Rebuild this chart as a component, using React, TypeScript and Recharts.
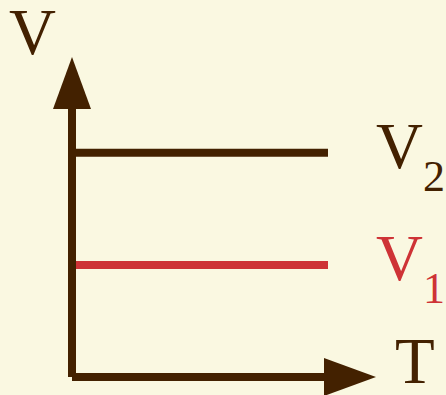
import React from 'react';
import { LineChart, Line, XAxis, YAxis, Label, LabelList } from 'recharts';

// T values along the horizontal axis
const temperatures = [0, 5, 10];
// constant volumes for the two isochores
const volume1 = [4.12, 4.12, 4.12];
const volume2 = [8.24, 8.24, 8.24];
const seriesLabels = { v1: ['V', '1'], v2: ['V', '2'] };
const axisLabels = { x: 'T', y: 'V' };

const BG = '#FAF8E1';
const BROWN = '#432100';
const RED = '#CE3336';
const FONT = '"Liberation Serif", "DejaVu Serif", serif';

const data = temperatures.map((t, i) => ({ t, v1: volume1[i], v2: volume2[i] }));

const endLabel = (parts: string[], color: string, count: number) => (props: any) => {
  const { x, y, index } = props;
  if (index !== count - 1) return null;
  return (
    <text x={x + 48} y={y + 15} fill={color} fontFamily={FONT} fontSize={65}>
      {parts[0]}
      <tspan fontSize={44} dy={23}>{parts[1]}</tspan>
    </text>
  );
};

export default function App() {
  return (
    <div style={{ position: 'absolute', left: 0, top: 0, width: 446, height: 395, background: BG }}>
      <style>{`body{margin:0;background:${BG};}`}</style>
      <svg width={0} height={0} style={{ position: 'absolute' }}>
        <defs>
          <marker
            id="arrowHead"
            viewBox="0 0 52 38"
            markerUnits="userSpaceOnUse"
            markerWidth={52}
            markerHeight={38}
            refX={4}
            refY={19}
            orient="auto-start-reverse"
          >
            <path d="M0,0 L52,19 L0,38 Z" fill={BROWN} />
          </marker>
        </defs>
      </svg>
      <LineChart width={446} height={395} data={data} margin={{ top: 105, right: 118, bottom: 8, left: 60 }}>
        <XAxis
          dataKey="t"
          type="number"
          domain={[0, 10]}
          height={10}
          tick={false}
          tickLine={false}
          axisLine={{ stroke: BROWN, strokeWidth: 8, markerEnd: 'url(#arrowHead)' } as any}
        >
          <Label
            content={(p: any) => (
              <text x={p.viewBox.x + p.viewBox.width + 67} y={p.viewBox.y + 6} fill={BROWN} fontFamily={FONT} fontSize={65}>
                {axisLabels.x}
              </text>
            )}
          />
        </XAxis>
        <YAxis
          type="number"
          domain={[0, 10]}
          width={12}
          tick={false}
          tickLine={false}
          axisLine={{ stroke: BROWN, strokeWidth: 8, markerStart: 'url(#arrowHead)' } as any}
        >
          <Label
            content={(p: any) => (
              <text x={p.viewBox.x - 51} y={p.viewBox.y - 51} fill={BROWN} fontFamily={FONT} fontSize={65}>
                {axisLabels.y}
              </text>
            )}
          />
        </YAxis>
        <Line dataKey="v2" stroke={BROWN} strokeWidth={8} dot={false} isAnimationActive={false}>
          <LabelList dataKey="v2" content={endLabel(seriesLabels.v2, BROWN, data.length)} />
        </Line>
        <Line dataKey="v1" stroke={RED} strokeWidth={8} dot={false} isAnimationActive={false}>
          <LabelList dataKey="v1" content={endLabel(seriesLabels.v1, RED, data.length)} />
        </Line>
      </LineChart>
    </div>
  );
}
